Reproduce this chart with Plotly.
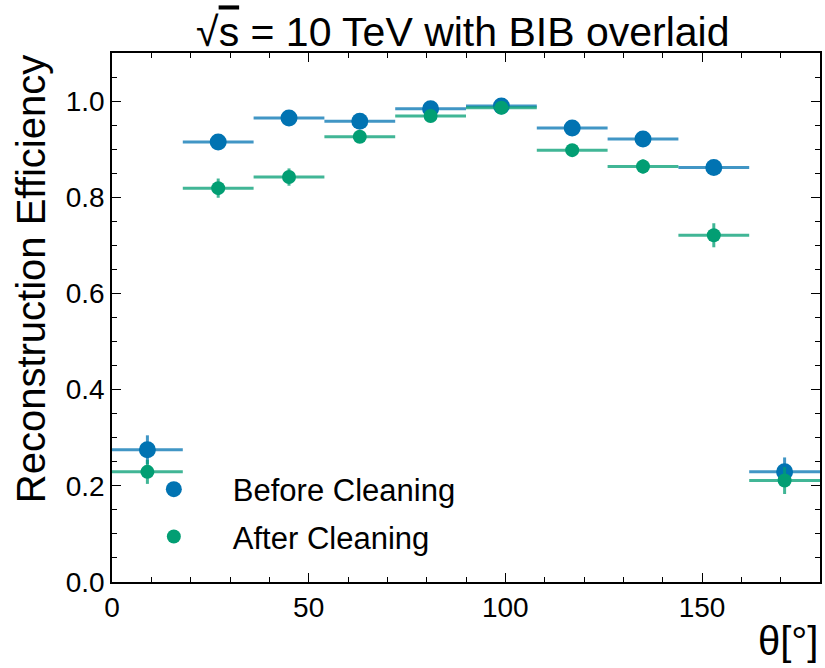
import plotly.graph_objects as go

theta_centers = [9, 27, 45, 63, 81, 99, 117, 135, 153, 171]
bin_half_width = [9] * 10
eff_before = [0.275, 0.915, 0.965, 0.958, 0.984, 0.990, 0.944, 0.921, 0.862, 0.229]
err_before = [0.030, 0.010, 0.008, 0.008, 0.006, 0.005, 0.009, 0.010, 0.015, 0.030]
eff_after = [0.229, 0.819, 0.842, 0.926, 0.969, 0.986, 0.898, 0.864, 0.721, 0.211]
err_after = [0.025, 0.020, 0.018, 0.012, 0.008, 0.006, 0.012, 0.015, 0.025, 0.028]

blue = "#0173B2"
green = "#029E73"

fig = go.Figure()
fig.add_trace(go.Scatter(
    x=theta_centers, y=eff_before, mode="markers", name="Before Cleaning",
    legendgroup="a",
    marker=dict(color=blue, size=17),
    error_x=dict(type="data", array=bin_half_width, color="rgba(1,115,178,0.75)", thickness=3, width=0),
    error_y=dict(type="data", array=err_before, color="rgba(1,115,178,0.75)", thickness=3, width=0),
))
fig.add_trace(go.Scatter(
    x=theta_centers, y=eff_after, mode="markers", name="After Cleaning",
    legendgroup="b",
    marker=dict(color=green, size=14),
    error_x=dict(type="data", array=bin_half_width, color="rgba(2,158,115,0.75)", thickness=3, width=0),
    error_y=dict(type="data", array=err_after, color="rgba(2,158,115,0.75)", thickness=3, width=0),
))

axis_common = dict(
    showline=True, linecolor="black", linewidth=1.5, mirror="allticks",
    ticks="inside", ticklen=9, tickwidth=1.2, tickcolor="black",
    showgrid=False, zeroline=False,
    tickfont=dict(size=28, color="black"),
)
fig.update_xaxes(range=[0, 180], tickvals=[0, 50, 100, 150], ticktext=["0", "50", "100", "150"],
                 minor=dict(dtick=10, tick0=0, ticks="inside", ticklen=5, tickcolor="black", tickwidth=1),
                 **axis_common)
fig.update_yaxes(range=[0, 1.1], tickvals=[0, 0.2, 0.4, 0.6, 0.8, 1.0],
                 ticktext=["0.0", "0.2", "0.4", "0.6", "0.8", "1.0"],
                 minor=dict(dtick=0.05, tick0=0, ticks="inside", ticklen=5, tickcolor="black", tickwidth=1),
                 **axis_common)

fig.update_layout(
    width=825, height=668,
    margin=dict(l=112, r=3, t=53, b=86),
    paper_bgcolor="white", plot_bgcolor="white",
    font=dict(family="Liberation Sans, Arial, sans-serif", color="black"),
    title=dict(text="√<span style='text-decoration:overline'>s</span> = 10 TeV with BIB overlaid",
               x=0.561, xanchor="center", y=0.952, yanchor="middle",
               font=dict(size=41, color="black")),
    legend=dict(x=0.004, y=0.035, xanchor="left", yanchor="bottom",
                font=dict(size=31, color="black"), bgcolor="rgba(0,0,0,0)",
                tracegroupgap=4, itemwidth=108),
    showlegend=True,
    annotations=[
        dict(text="θ[°]", xref="paper", yref="paper", x=1.0, y=-0.112, xanchor="right", yanchor="middle",
             showarrow=False, font=dict(size=40, color="black")),
        dict(text="Reconstruction Efficiency", xref="paper", yref="paper", x=-0.148, y=1.0,
             xanchor="left", yanchor="top", textangle=-90, showarrow=False,
             font=dict(size=40, color="black")),
    ],
)

fig.write_html("out.html")
